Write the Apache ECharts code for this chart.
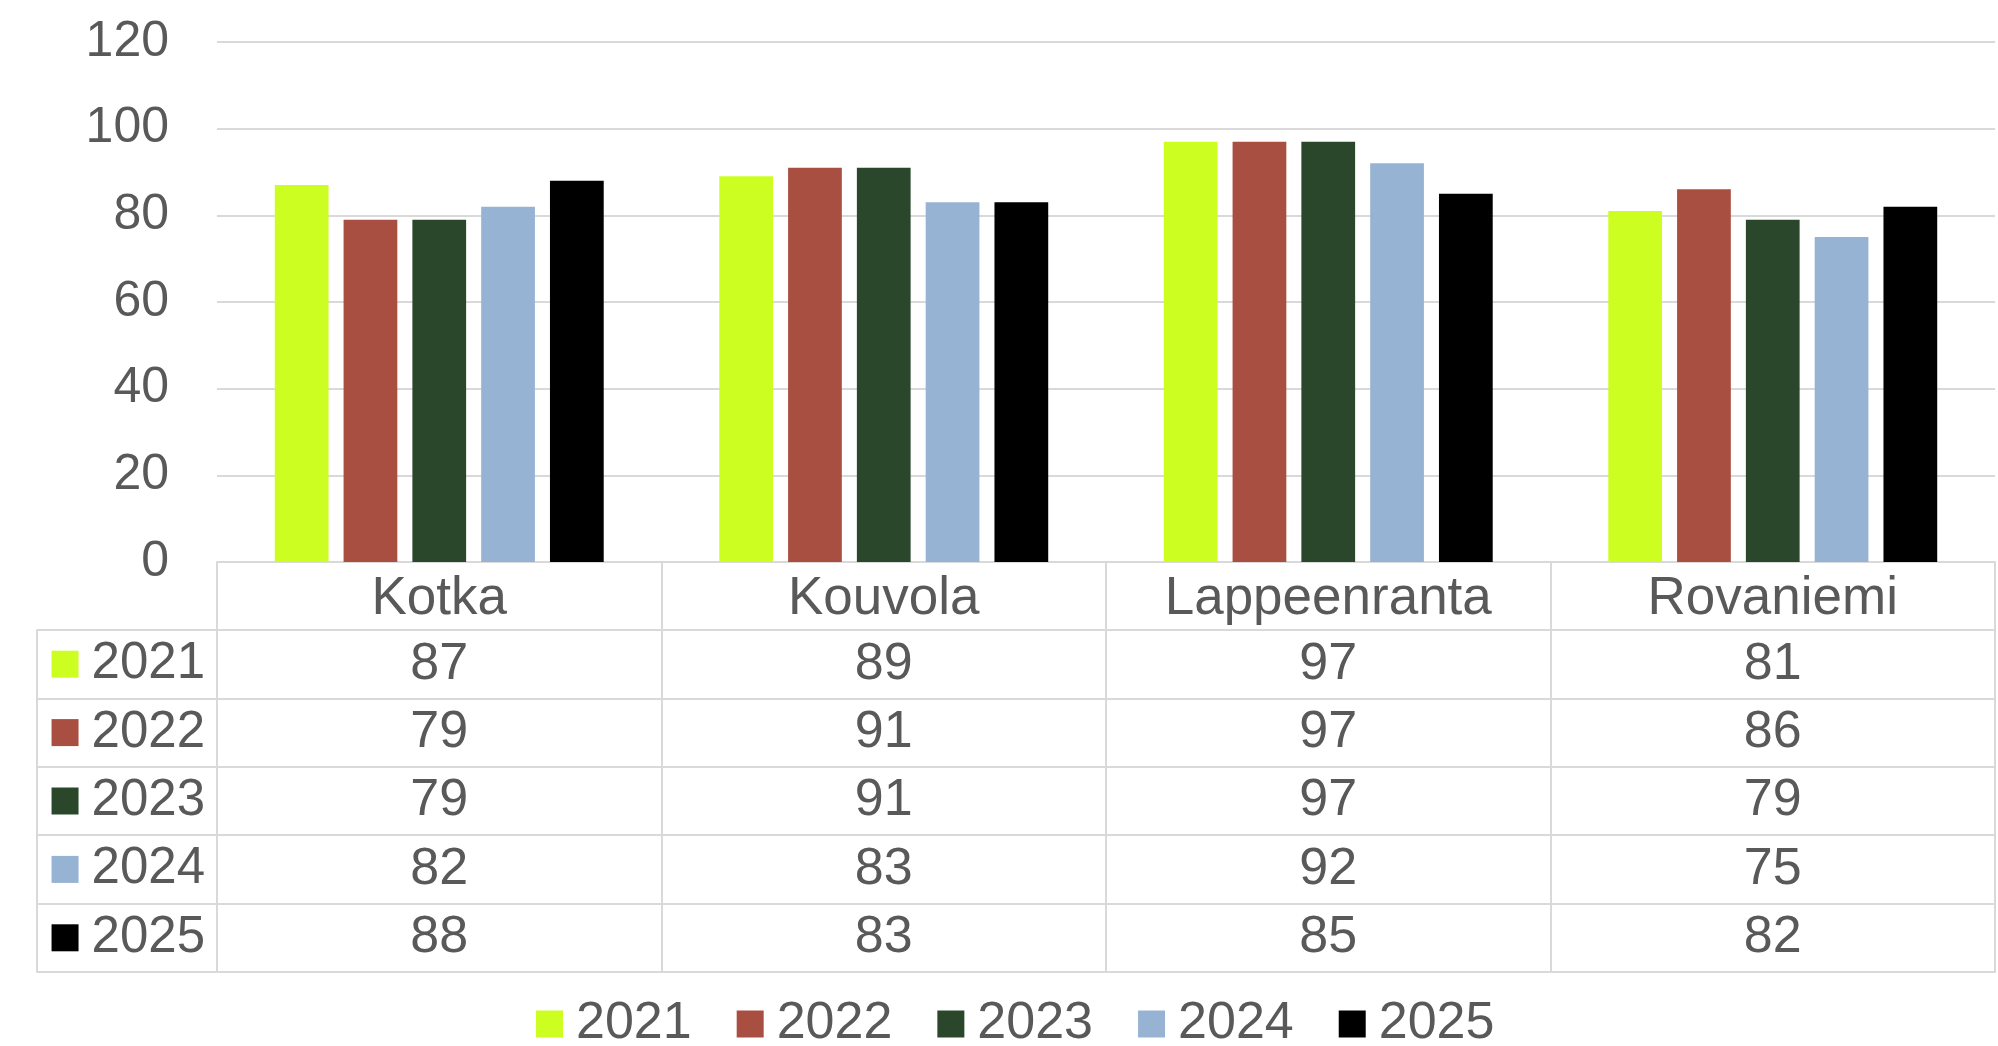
<!DOCTYPE html>
<html>
<head>
<meta charset="utf-8">
<script src="https://cdn.jsdelivr.net/npm/echarts@6/dist/echarts.min.js"></script>
<style>
html,body{margin:0;padding:0;background:#fff;}
#chart{width:1998px;height:1046px;}
</style>
</head>
<body>
<div id="chart"></div>
<script>
const categories = ['Kotka', 'Kouvola', 'Lappeenranta', 'Rovaniemi'];
const years = ['2021', '2022', '2023', '2024', '2025'];
const v2021 = [87, 89, 97, 81];
const v2022 = [79, 91, 97, 86];
const v2023 = [79, 91, 97, 79];
const v2024 = [82, 83, 92, 75];
const v2025 = [88, 83, 85, 82];
const yMin = 0, yMax = 120, yStep = 20;

const seriesValues = [v2021, v2022, v2023, v2024, v2025];
const colors = ['#CCFF21', '#A84F42', '#2A472C', '#97B3D4', '#000000'];
const textColor = '#595959';
const lineColor = '#D9D9D9';
const FONT = 'Liberation Sans, Arial, sans-serif';
const FS = 52;

const chart = echarts.init(document.getElementById('chart'));

const rich = { t: { fontSize: 51, color: textColor, fontFamily: FONT, padding: [0, 0, 0, 13] } };
years.forEach((y, i) => {
  rich['sq' + i] = { backgroundColor: colors[i], width: 27, height: 27 };
});

const tableData = [];
years.forEach((y, i) => {
  categories.forEach((c, j) => {
    tableData.push([j, i, seriesValues[i][j]]);
  });
});

const option = {
  animation: false,
  textStyle: { fontFamily: FONT },
  legend: {
    data: years,
    left: 536,
    top: 998,
    orient: 'horizontal',
    icon: 'rect',
    itemWidth: 27,
    itemHeight: 27,
    itemGap: 45,
    padding: 0,
    textStyle: { fontSize: FS, color: textColor, fontFamily: FONT, padding: [0, 0, 0, 8], verticalAlign: 'middle' },
    selectedMode: false
  },
  grid: [
    { left: 217, right: 3, top: 42, height: 520, containLabel: false },
    { left: 217, right: 3, top: 630, height: 342, containLabel: false,
      show: true, borderColor: lineColor, borderWidth: 2, backgroundColor: 'transparent' }
  ],
  xAxis: [
    {
      type: 'category', gridIndex: 0, data: categories,
      axisLine: { show: true, lineStyle: { color: lineColor, width: 2 } },
      axisTick: { show: true, alignWithLabel: false, length: 68, lineStyle: { color: lineColor, width: 2 } },
      axisLabel: { fontSize: 53, color: textColor, fontFamily: FONT, margin: 11 },
      splitLine: { show: false }
    },
    {
      type: 'category', gridIndex: 1, data: categories,
      axisLine: { show: false }, axisTick: { show: false }, axisLabel: { show: false },
      splitLine: { show: true, lineStyle: { color: lineColor, width: 2 } }
    }
  ],
  yAxis: [
    {
      type: 'value', gridIndex: 0, min: yMin, max: yMax, interval: yStep,
      axisLine: { show: false }, axisTick: { show: false },
      axisLabel: { fontSize: 50, color: textColor, fontFamily: FONT, margin: 48 },
      splitLine: { show: true, lineStyle: { color: lineColor, width: 2 } }
    },
    {
      type: 'category', gridIndex: 1, data: years, inverse: true,
      axisLine: { show: true, lineStyle: { color: lineColor, width: 2 } },
      axisTick: { show: true, alignWithLabel: false, length: 180, lineStyle: { color: lineColor, width: 2 } },
      axisLabel: {
        margin: 12,
        formatter: (val, idx) => '{sq' + idx + '|}{t|' + val + '}',
        rich: rich
      },
      splitLine: { show: true, lineStyle: { color: lineColor, width: 2 } }
    },
    {
      type: 'category', gridIndex: 1, data: years, inverse: true, position: 'left', offset: 180,
      axisLine: { show: true, lineStyle: { color: lineColor, width: 2 } },
      axisTick: { show: false }, axisLabel: { show: false }, splitLine: { show: false }
    }
  ],
  series: [
    ...years.map((y, i) => ({
      name: y,
      type: 'bar',
      xAxisIndex: 0, yAxisIndex: 0,
      data: seriesValues[i],
      itemStyle: { color: colors[i] },
      barGap: '28%',
      barCategoryGap: '26%'
    })),
    {
      name: 'table',
      type: 'scatter',
      xAxisIndex: 1, yAxisIndex: 1,
      data: tableData,
      symbolSize: 0,
      itemStyle: { color: '#ffffff', opacity: 1 },
      label: {
        show: true, position: 'inside',
        formatter: p => String(p.value[2]),
        fontSize: FS, color: textColor, fontFamily: FONT, opacity: 1,
        textBorderWidth: 0
      },
      emphasis: { disabled: true },
      silent: true
    }
  ]
};
chart.setOption(option);
</script>
</body>
</html>
